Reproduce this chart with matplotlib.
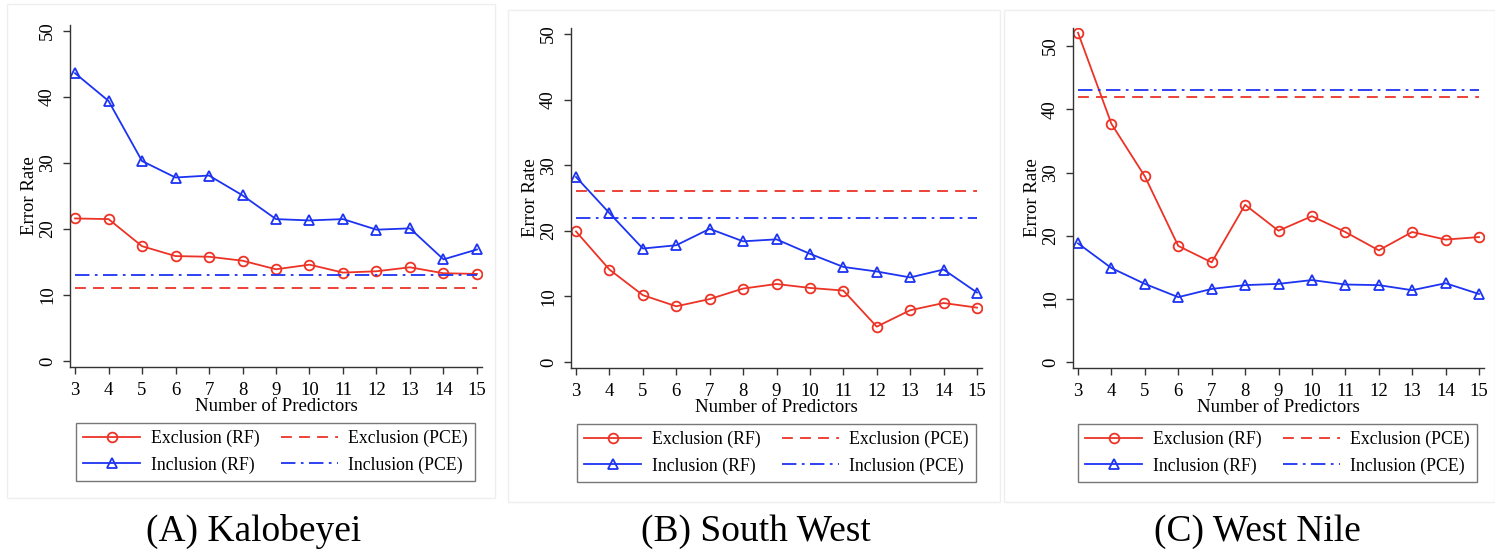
import numpy as np
import matplotlib
matplotlib.use("Agg")
import matplotlib.pyplot as plt
from matplotlib.patches import Rectangle

plt.rcParams['font.family'] = ['Liberation Serif', 'DejaVu Serif']

# number of predictors on the x axis
predictors = list(range(3, 16))

# (A) Kalobeyei
kal_excl_rf = [21.6, 21.5, 17.4, 15.9, 15.8, 15.2, 13.9, 14.6, 13.4, 13.6, 14.2, 13.3, 13.2]
kal_incl_rf = [43.6, 39.4, 30.3, 27.8, 28.1, 25.1, 21.5, 21.3, 21.5, 19.9, 20.1, 15.4, 16.9]
kal_excl_pce = 11
kal_incl_pce = 13

# (B) South West
sw_excl_rf = [19.9, 14.1, 10.2, 8.5, 9.6, 11.2, 11.9, 11.3, 10.9, 5.4, 7.9, 9.0, 8.3]
sw_incl_rf = [28.2, 22.7, 17.3, 17.8, 20.3, 18.4, 18.7, 16.5, 14.5, 13.8, 12.9, 14.1, 10.6]
sw_excl_pce = 26
sw_incl_pce = 22

# (C) West Nile
wn_excl_rf = [52.1, 37.7, 29.4, 18.4, 15.8, 24.9, 20.8, 23.1, 20.6, 17.7, 20.6, 19.4, 19.8]
wn_incl_rf = [18.8, 14.9, 12.4, 10.3, 11.6, 12.2, 12.4, 13.0, 12.3, 12.2, 11.4, 12.5, 10.8]
wn_excl_pce = 42
wn_incl_pce = 43

captions = ['(A) Kalobeyei', '(B) South West', '(C) West Nile']

RED = '#ec3326'
BLUE = '#1c33f2'
AXC = '#333333'

W, H = 1495, 551
fig = plt.figure(figsize=(W / 100, H / 100), dpi=100)

def fx(px):
    return px / W

def fy(px):
    return 1 - px / H

panels = [
    # left, right, top, bottom (pixels), ymax, data
    (70, 482, 25, 367, 50.9, kal_excl_rf, kal_incl_rf, kal_excl_pce, kal_incl_pce),
    (571, 982, 28, 368, 50.9, sw_excl_rf, sw_incl_rf, sw_excl_pce, sw_incl_pce),
    (1073, 1484, 28, 368, 52.85, wn_excl_rf, wn_incl_rf, wn_excl_pce, wn_incl_pce),
]
frames = [(7, 4, 495, 498), (508, 10, 1000, 502), (1004, 10, 1495, 502)]
legend_corner = [(76, 423), (577, 424), (1078, 424)]
caption_x = [254, 756, 1257]

for i, (l, r, t, b, ymax, excl, incl, excl_pce, incl_pce) in enumerate(panels):
    # faint graph-region frame
    x0, y0, x1, y1 = frames[i]
    fig.patches.append(Rectangle((fx(x0), fy(y1)), fx(x1 - x0), (y1 - y0) / H,
                                 transform=fig.transFigure, fill=False,
                                 edgecolor='#efefef', lw=1, zorder=0))

    ax = fig.add_axes([fx(l), fy(b), fx(r - l), (b - t) / H])
    ax.plot(predictors, excl, color=RED, lw=1.3, marker='o', ms=7,
            mfc='none', mec=RED, mew=1.3, label='Exclusion (RF)')
    ax.plot(predictors, incl, color=BLUE, lw=1.3, marker='^', ms=7,
            mfc='none', mec=BLUE, mew=1.3, label='Inclusion (RF)')
    ax.plot([3, 15], [excl_pce, excl_pce], color=RED, lw=1.3,
            ls=(0, (6, 4)), label='Exclusion (PCE)')
    ax.plot([3, 15], [incl_pce, incl_pce], color=BLUE, lw=1.3,
            ls=(0, (8, 3, 1.5, 3)), label='Inclusion (PCE)')

    ax.set_xlim(2.85, 15.15)
    ax.set_ylim(-0.9, ymax)
    ax.set_xticks(predictors)
    ax.set_yticks([0, 10, 20, 30, 40, 50])
    for s in ['top', 'right']:
        ax.spines[s].set_visible(False)
    for s in ['left', 'bottom']:
        ax.spines[s].set_color(AXC)
        ax.spines[s].set_linewidth(1.0)
    ax.tick_params(axis='both', colors=AXC, length=5, width=1.0,
                   labelsize=13.5, labelcolor='black')
    ax.tick_params(axis='x', pad=6)
    ax.tick_params(axis='y', pad=5)
    for lab in ax.get_yticklabels():
        lab.set_rotation(90)
        lab.set_va('center')
    ax.set_xlabel('Number of Predictors', fontsize=13.5, labelpad=-1)
    ax.set_ylabel('Error Rate', fontsize=13.5, labelpad=1)

    handles, labels = ax.get_legend_handles_labels()
    lx0, ly0 = legend_corner[i]
    leg = ax.legend(handles, labels, ncol=2, loc='upper left',
                    bbox_to_anchor=(fx(lx0), fy(ly0)),
                    bbox_transform=fig.transFigure, fontsize=12.8, frameon=True,
                    fancybox=False, edgecolor='#555555', handlelength=3.2,
                    borderpad=0.4, labelspacing=0.5, handletextpad=0.6,
                    columnspacing=1.2, borderaxespad=0)
    leg.get_frame().set_linewidth(1.0)

    fig.text(fx(caption_x[i]), fy(541), captions[i], ha='center', va='baseline',
             fontsize=27)

fig.savefig('out.png', dpi=100, facecolor='white')
